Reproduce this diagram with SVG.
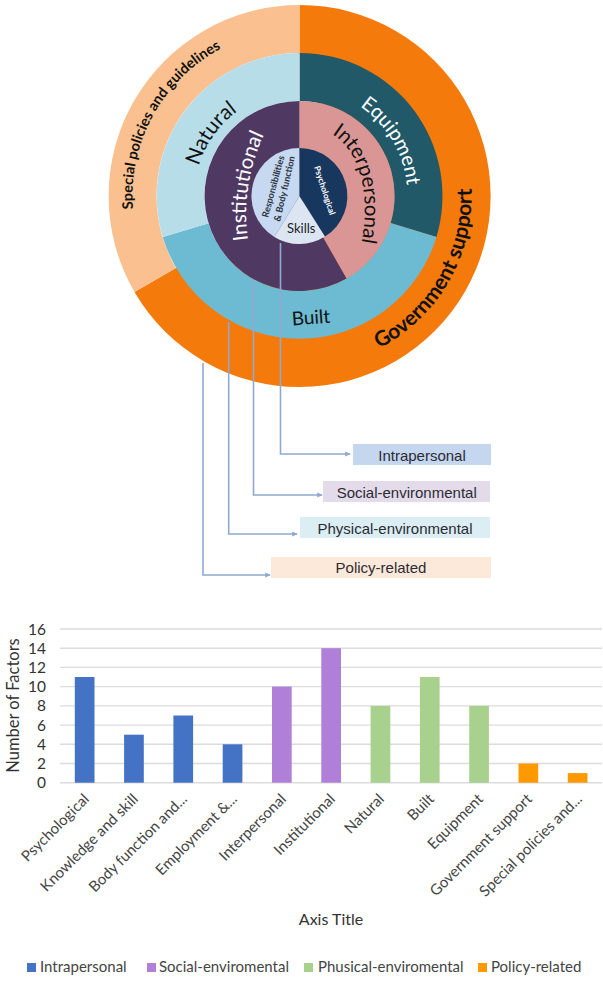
<svg xmlns="http://www.w3.org/2000/svg" width="603" height="981" viewBox="0 0 603 981">
<style>
text{font-family:"Lato","Open Sans",sans-serif}
.arial{font-family:"Liberation Sans",Arial,sans-serif;font-size:15px;fill:#2b2b35;text-anchor:middle}
.conn{fill:none;stroke:#8fa9d0;stroke-width:1.6;marker-end:url(#arr)}
.grid{stroke:#dcdcdc;stroke-width:1.4}
.tick{font-size:15.5px;fill:#333;text-anchor:end}
.cat{font-size:15px;fill:#444;text-anchor:end}
.leg{font-size:15px;fill:#444}
.b1{fill:#4472c4}.b2{fill:#b07fd8}.b3{fill:#a9d18e}.b4{fill:#ff9900}
</style>
<defs>
<marker id="arr" markerWidth="4" markerHeight="4" refX="3" refY="2" orient="auto" markerUnits="strokeWidth"><path d="M0,0.5L3.5,2L0,3.5z" fill="#8fa9d0"/></marker>
<path id="pSpecial" d="M133,209A167,167 0 0 1 299.5,29"/>
<path id="pGov" d="M379.2,348.4A172,172 0 0 0 471,180"/>
<path id="pNat" d="M198.9,166A105,105 0 0 1 299.5,91"/>
<path id="pEq" d="M359.9,106.5A108,108 0 0 1 405.9,214.8"/>
<path id="pInter" d="M332,134C358,150 372,190 361,246"/>
<path id="pInst" d="M248,240C243,205 248,165 268,126"/>
</defs>

<g id="ring-outer">
<path id="government-support" fill="#f47a0c" d="M299.5,5A191,191 0 1 1 134.5,292L175.9,267.9A143,143 0 0 0 299.5,53z"/>
<path id="special-policies" fill="#fac090" d="M134.5,292A191,191 0 0 1 299.5,5L299.5,53A143,143 0 0 0 175.9,267.9z"/>
<text font-size="14.5" font-weight="700" fill="#111"><textPath href="#pSpecial">Special policies and guidelines</textPath></text>
<text font-size="21" font-weight="700" fill="#111"><textPath href="#pGov">Government support</textPath></text>
</g>
<g id="ring-physical">
<path id="equipment" fill="#215968" d="M299.5,53A143,143 0 0 1 436.5,236.9L390.5,223.1A95,95 0 0 0 299.5,101z"/>
<path id="built" fill="#6dbbd2" d="M436.5,236.9A143,143 0 0 1 162.7,237L208.5,223.3A95,95 0 0 0 390.5,223.1z"/>
<path id="natural" fill="#b7dde8" d="M162.7,237A143,143 0 0 1 299.5,53L299.5,101A95,95 0 0 0 208.5,223.3z"/>
<text font-size="21" fill="#111"><textPath href="#pNat">Natural</textPath></text>
<text font-size="20" fill="#fff"><textPath href="#pEq">Equipment</textPath></text>
<text font-size="19" fill="#111" transform="rotate(-4 312 322)" x="292" y="324">Built</text>
</g>
<g id="ring-social">
<path id="interpersonal" fill="#d99694" d="M299.5,101A95,95 0 0 1 346.5,278.6L299.5,196z"/>
<path id="institutional" fill="#4f3963" d="M346.5,278.6A95,95 0 1 1 299.5,101L299.5,196z"/>
<text font-size="20.5" fill="#111"><textPath href="#pInter">Interpersonal</textPath></text>
<text font-size="20.5" fill="#fff"><textPath href="#pInst">Institutional</textPath></text>
</g>
<g id="ring-intrapersonal">
<path id="responsibilities" fill="#c6d9f1" d="M299.5,196L274.3,236.9A48,48 0 0 1 299.5,148z"/>
<path id="skills" fill="#dce6f2" d="M299.5,196L325,236.6A48,48 0 0 1 274.3,236.9z"/>
<path id="psychological" fill="#17375e" d="M299.5,148A48,48 0 0 1 325,236.6L299.5,196z"/>
<text font-size="8.5" font-weight="700" fill="#fff" transform="translate(314,167) rotate(72)">Psychological</text>
<text font-size="9.2" font-weight="700" fill="#2b3240" transform="translate(268,218) rotate(-75)">Responsibilities</text>
<text font-size="9.2" font-weight="700" fill="#2b3240" transform="translate(280,222) rotate(-77)">&amp; Body function</text>
<text font-size="13" fill="#222" x="287" y="233">Skills</text>
</g>

<g id="connectors">
<path class="conn" d="M280.5,243V454H350"/>
<path class="conn" d="M253.5,282V495H322"/>
<path class="conn" d="M228.7,322V534H297"/>
<path class="conn" d="M203,363V575H270"/>
</g>

<g id="label-intrapersonal"><rect x="353" y="444" width="138" height="21" fill="#c5d6ef"/><text class="arial" x="422" y="461">Intrapersonal</text></g>
<g id="label-social"><rect x="323" y="481" width="167" height="21" fill="#e3dbe9"/><text class="arial" x="406.7" y="497.5">Social-environmental</text></g>
<g id="label-physical"><rect x="300" y="517" width="190" height="21" fill="#daeef3"/><text class="arial" x="395" y="534">Physical-environmental</text></g>
<g id="label-policy"><rect x="271" y="557" width="220" height="21" fill="#fde9d9"/><text class="arial" x="381" y="573">Policy-related</text></g>

<g id="chart">
<g id="gridlines">
<path class="grid" d="M60,629H602M60,648.2H602M60,667.4H602M60,686.6H602M60,705.9H602M60,725.1H602M60,744.3H602M60,763.5H602M60,782.7H602"/>
</g>
<g id="y-ticks">
<text class="tick" x="46" y="634.5">16</text><text class="tick" x="46" y="653.7">14</text><text class="tick" x="46" y="672.9">12</text><text class="tick" x="46" y="692.1">10</text><text class="tick" x="46" y="711.4">8</text><text class="tick" x="46" y="730.6">6</text><text class="tick" x="46" y="749.8">4</text><text class="tick" x="46" y="769">2</text><text class="tick" x="46" y="788.2">0</text>
</g>
<text font-size="16.5" fill="#333" text-anchor="middle" transform="translate(19,705.5) rotate(-90)">Number of Factors</text>
<g id="bars">
<rect class="b1" x="74.8" y="677" width="19.7" height="105.7"/>
<rect class="b1" x="124.1" y="734.7" width="19.7" height="48"/>
<rect class="b1" x="173.4" y="715.5" width="19.7" height="67.2"/>
<rect class="b1" x="222.7" y="744.3" width="19.7" height="38.4"/>
<rect class="b2" x="272" y="686.6" width="19.7" height="96.1"/>
<rect class="b2" x="321.3" y="648.2" width="19.7" height="134.5"/>
<rect class="b3" x="370.6" y="705.9" width="19.7" height="76.8"/>
<rect class="b3" x="419.9" y="677" width="19.7" height="105.7"/>
<rect class="b3" x="469.2" y="705.9" width="19.7" height="76.8"/>
<rect class="b4" x="518.5" y="763.5" width="19.7" height="19.2"/>
<rect class="b4" x="567.8" y="773.1" width="19.7" height="9.6"/>
</g>
<g id="x-labels">
<text class="cat" transform="translate(90,800) rotate(-45)">Psychological</text>
<text class="cat" transform="translate(139,800) rotate(-45)">Knowledge and skill</text>
<text class="cat" transform="translate(188,800) rotate(-45)">Body function and...</text>
<text class="cat" transform="translate(238,800) rotate(-45)">Employment &amp;...</text>
<text class="cat" transform="translate(287,800) rotate(-45)">Interpersonal</text>
<text class="cat" transform="translate(336,800) rotate(-45)">Institutional</text>
<text class="cat" transform="translate(385,800) rotate(-45)">Natural</text>
<text class="cat" transform="translate(435,800) rotate(-45)">Built</text>
<text class="cat" transform="translate(484,800) rotate(-45)">Equipment</text>
<text class="cat" transform="translate(533,800) rotate(-45)">Government support</text>
<text class="cat" transform="translate(583,800) rotate(-45)">Special policies and...</text>
</g>
<text font-size="16" fill="#333" text-anchor="middle" x="331" y="925">Axis Title</text>
<g id="legend">
<rect class="b1" x="27" y="963" width="9" height="9"/><text class="leg" x="40" y="972">Intrapersonal</text>
<rect class="b2" x="147" y="963" width="9" height="9"/><text class="leg" x="159" y="972">Social-enviromental</text>
<rect class="b3" x="304" y="963" width="9" height="9"/><text class="leg" x="318" y="972">Phusical-enviromental</text>
<rect class="b4" x="478" y="963" width="9" height="9"/><text class="leg" x="491" y="972">Policy-related</text>
</g>
</g>
</svg>
